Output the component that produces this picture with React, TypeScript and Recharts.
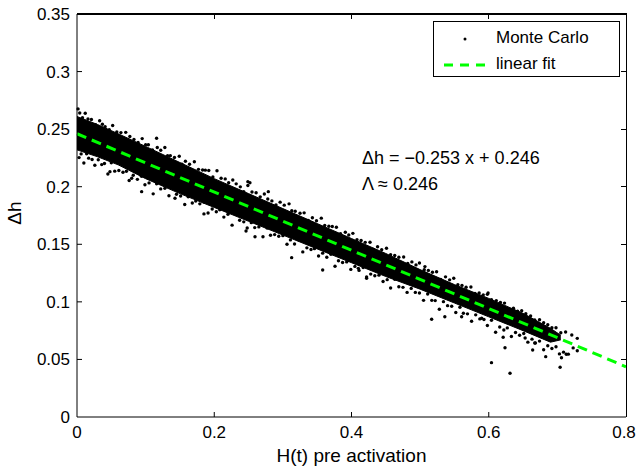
import React from "react";
import { ComposedChart, XAxis, YAxis, Area, Scatter, Line } from "recharts";

// axis ticks
const xTicks = [0, 0.2, 0.4, 0.6, 0.8];
const xTickLabels = ["0", "0.2", "0.4", "0.6", "0.8"];
const yTicks = [0, 0.05, 0.1, 0.15, 0.2, 0.25, 0.3, 0.35];
const yTickLabels = ["0", "0.05", "0.1", "0.15", "0.2", "0.25", "0.3", "0.35"];
const xMax = 0.8;
const yMax = 0.35;

// dense core of the Monte Carlo cloud (solid black region)
const bandX = [0, 0.03, 0.06, 0.1, 0.15, 0.2, 0.25, 0.3, 0.35, 0.4, 0.45, 0.5, 0.55, 0.6, 0.65, 0.69, 0.705];
const bandHi = [0.261, 0.254, 0.246, 0.235, 0.221, 0.207, 0.194, 0.181, 0.168, 0.155, 0.142, 0.128, 0.115, 0.103, 0.09, 0.077, 0.071];
const bandLo = [0.232, 0.226, 0.219, 0.207, 0.194, 0.182, 0.17, 0.158, 0.146, 0.134, 0.122, 0.111, 0.099, 0.087, 0.075, 0.065, 0.067];

// samples on the upper edge of the cloud
const upperX = [0.004, 0.012, 0.021, 0.033, 0.041, 0.052, 0.064, 0.071, 0.083, 0.095, 0.104, 0.117, 0.128, 0.136, 0.149, 0.158, 0.171, 0.183, 0.192, 0.204, 0.216, 0.227, 0.238, 0.249, 0.261, 0.273, 0.284, 0.296, 0.309, 0.318, 0.331, 0.343, 0.356, 0.367, 0.378, 0.391, 0.402, 0.414, 0.427, 0.438, 0.451, 0.463, 0.476, 0.488, 0.499, 0.512, 0.524, 0.537, 0.549, 0.561, 0.574, 0.586, 0.598, 0.611, 0.623, 0.636, 0.648, 0.661, 0.674, 0.686, 0.698, 0.712, 0.721, 0.729];
const upperY = [0.264, 0.2638, 0.2584, 0.2573, 0.2521, 0.2532, 0.247, 0.2472, 0.241, 0.2418, 0.2364, 0.234, 0.2341, 0.227, 0.2265, 0.2221, 0.2217, 0.2145, 0.2141, 0.2139, 0.2068, 0.2058, 0.1999, 0.201, 0.1948, 0.1937, 0.1877, 0.1866, 0.1851, 0.1787, 0.1773, 0.1731, 0.1727, 0.1657, 0.1648, 0.1604, 0.1595, 0.1533, 0.1518, 0.1479, 0.1465, 0.1403, 0.1389, 0.1347, 0.1338, 0.1273, 0.1261, 0.1217, 0.1205, 0.1143, 0.1129, 0.1077, 0.1065, 0.1011, 0.0989, 0.0945, 0.0923, 0.0878, 0.0844, 0.0802, 0.0775, 0.0738, 0.0712, 0.0683];

// samples straddling the upper edge
const upperInX = [0.008, 0.016, 0.027, 0.037, 0.047, 0.058, 0.068, 0.077, 0.089, 0.1, 0.11, 0.122, 0.132, 0.142, 0.153, 0.164, 0.177, 0.187, 0.198, 0.21, 0.221, 0.232, 0.243, 0.255, 0.267, 0.278, 0.29, 0.302, 0.313, 0.325, 0.337, 0.349, 0.361, 0.372, 0.384, 0.396, 0.408, 0.42, 0.432, 0.444, 0.457, 0.469, 0.482, 0.494, 0.506, 0.518, 0.53, 0.543, 0.555, 0.567, 0.58, 0.592, 0.604, 0.617, 0.629, 0.642, 0.654, 0.667, 0.68, 0.692, 0.705];
const upperInY = [0.2599, 0.2588, 0.2538, 0.2542, 0.2495, 0.2476, 0.242, 0.2436, 0.2384, 0.2365, 0.2319, 0.2317, 0.227, 0.2254, 0.2195, 0.2195, 0.2151, 0.2144, 0.2085, 0.2074, 0.2034, 0.2025, 0.1956, 0.1954, 0.1912, 0.1893, 0.1842, 0.184, 0.1791, 0.1769, 0.1707, 0.1705, 0.1663, 0.1654, 0.1592, 0.1581, 0.1539, 0.1517, 0.1455, 0.1453, 0.1409, 0.1387, 0.1333, 0.1321, 0.1279, 0.1257, 0.1195, 0.1191, 0.1149, 0.1127, 0.1073, 0.1061, 0.1019, 0.0995, 0.0933, 0.0919, 0.0897, 0.0843, 0.0818, 0.0776, 0.0732];

// samples on the lower edge of the cloud
const lowerX = [0.003, 0.01, 0.017, 0.026, 0.036, 0.045, 0.055, 0.067, 0.076, 0.088, 0.099, 0.111, 0.122, 0.134, 0.145, 0.157, 0.168, 0.179, 0.191, 0.203, 0.214, 0.226, 0.237, 0.248, 0.259, 0.271, 0.282, 0.294, 0.306, 0.317, 0.329, 0.341, 0.352, 0.364, 0.376, 0.387, 0.399, 0.411, 0.422, 0.434, 0.446, 0.457, 0.469, 0.481, 0.493, 0.505, 0.517, 0.528, 0.54, 0.552, 0.563, 0.575, 0.587, 0.598, 0.61, 0.622, 0.633, 0.645, 0.657, 0.668, 0.68, 0.692, 0.703, 0.716];
const lowerY = [0.2253, 0.2206, 0.2248, 0.2186, 0.2192, 0.211, 0.2135, 0.2126, 0.2054, 0.2064, 0.2017, 0.1938, 0.1981, 0.1922, 0.1935, 0.1845, 0.1858, 0.1851, 0.1772, 0.1783, 0.1736, 0.1666, 0.1709, 0.1642, 0.1645, 0.1566, 0.1579, 0.157, 0.15, 0.1503, 0.1434, 0.1455, 0.1398, 0.1388, 0.1309, 0.1342, 0.1282, 0.1273, 0.1216, 0.1227, 0.1177, 0.112, 0.1131, 0.1082, 0.1082, 0.1013, 0.1013, 0.0936, 0.0967, 0.0908, 0.0901, 0.0831, 0.0852, 0.0795, 0.0736, 0.0756, 0.0699, 0.071, 0.065, 0.0643, 0.0584, 0.0595, 0.0548, 0.0546];

// samples straddling the lower edge
const lowerInX = [0.006, 0.014, 0.022, 0.031, 0.04, 0.05, 0.061, 0.072, 0.082, 0.094, 0.105, 0.116, 0.128, 0.139, 0.151, 0.162, 0.173, 0.185, 0.197, 0.208, 0.22, 0.231, 0.243, 0.254, 0.265, 0.277, 0.288, 0.3, 0.311, 0.323, 0.335, 0.346, 0.358, 0.37, 0.381, 0.393, 0.405, 0.417, 0.428, 0.44, 0.452, 0.463, 0.475, 0.487, 0.499, 0.511, 0.522, 0.534, 0.546, 0.558, 0.569, 0.581, 0.593, 0.604, 0.616, 0.627, 0.639, 0.651, 0.663, 0.674, 0.686, 0.698, 0.709];
const lowerInY = [0.2285, 0.2286, 0.2236, 0.2234, 0.2202, 0.2208, 0.2141, 0.2134, 0.2099, 0.209, 0.2033, 0.2026, 0.1986, 0.1989, 0.192, 0.1913, 0.1876, 0.1867, 0.1807, 0.18, 0.1761, 0.1764, 0.1695, 0.1688, 0.1651, 0.1641, 0.1584, 0.1575, 0.1538, 0.1539, 0.1469, 0.1462, 0.1423, 0.1414, 0.1357, 0.1347, 0.1308, 0.1298, 0.1241, 0.1232, 0.1193, 0.1196, 0.1126, 0.1117, 0.1077, 0.1068, 0.1011, 0.1002, 0.0962, 0.0953, 0.0896, 0.0887, 0.0847, 0.084, 0.0781, 0.0774, 0.0734, 0.0725, 0.0676, 0.0659, 0.0619, 0.061, 0.0563];

// isolated outliers
const outX = [0.0015, 0.048, 0.0797, 0.0942, 0.116, 0.1428, 0.185, 0.249, 0.252, 0.2463, 0.2594, 0.2788, 0.3128, 0.358, 0.41, 0.422, 0.507, 0.5168, 0.536, 0.5605, 0.5897, 0.599, 0.604, 0.621, 0.6237, 0.631, 0.653, 0.664, 0.667, 0.683, 0.704, 0.706, 0.713, 0.723, 0.729];
const outY = [0.2676, 0.2131, 0.2073, 0.1957, 0.2421, 0.19, 0.1764, 0.2044, 0.2035, 0.1616, 0.1566, 0.1957, 0.1384, 0.1277, 0.1291, 0.1205, 0.1306, 0.0849, 0.0871, 0.0871, 0.0857, 0.1077, 0.0472, 0.0692, 0.0602, 0.038, 0.0686, 0.0582, 0.0643, 0.0524, 0.0432, 0.0515, 0.0545, 0.06, 0.0576];

// linear fit  dh = -0.253 x + 0.246
const fitX = [0, 0.8];
const fitY = [0.246, 0.0436];

const FONT = '"Liberation Sans", Arial, Helvetica, sans-serif';
const GREEN = "#00ff00";

// chart geometry
const W = 637;
const H = 467;
const M = { top: 14, right: 11, bottom: 0, left: 0 };
const Y_AXIS_W = 77;
const X_AXIS_H = 50;
const plotL = M.left + Y_AXIS_W;
const plotR = W - M.right;
const plotT = M.top;
const plotB = H - M.bottom - X_AXIS_H;

const bandData = bandX.map((x, i) => ({ x, band: [bandLo[i], bandHi[i]] }));
const pairs = (xs: number[], ys: number[]) => xs.map((x, i) => ({ x, y: ys[i] }));
const mcData = [
  ...pairs(upperX, upperY),
  ...pairs(upperInX, upperInY),
  ...pairs(lowerX, lowerY),
  ...pairs(lowerInX, lowerInY),
  ...pairs(outX, outY),
];
const fitData = pairs(fitX, fitY);

function XTick({ x, y, payload }: any) {
  const i = xTicks.indexOf(payload.value);
  const last = i === xTicks.length - 1;
  return (
    <g>
      {i > 0 && !last && <line x1={x} x2={x} y1={y} y2={y - 5} stroke="#000" />}
      <text x={last ? x - 2 : x} y={y + 21} textAnchor="middle" fontSize={17} fontFamily={FONT} fill="#000">
        {xTickLabels[i]}
      </text>
    </g>
  );
}

function YTick({ x, y, payload }: any) {
  const i = yTicks.indexOf(payload.value);
  return (
    <g>
      {i > 0 && i < yTicks.length - 1 && <line x1={x} x2={x + 5} y1={y} y2={y} stroke="#000" />}
      <text x={x - 7} y={y + 6} textAnchor="end" fontSize={17} fontFamily={FONT} fill="#000">
        {yTickLabels[i]}
      </text>
    </g>
  );
}

// MATLAB-style box: top and right sides with inward ticks (drawn as solid 1px strips)
function Frame() {
  const sx = (v: number) => plotL + (v / xMax) * (plotR - plotL);
  const sy = (v: number) => plotB - (v / yMax) * (plotB - plotT);
  return (
    <>
      <div style={{ position: "absolute", left: plotL, top: plotT - 1, width: plotR - plotL + 1, height: 1.5, background: "#000" }} />
      <div style={{ position: "absolute", left: plotR - 0.5, top: plotT - 1, width: 1.5, height: plotB - plotT + 1, background: "#000" }} />
      {xTicks.slice(1, -1).map((v) => (
        <div key={"t" + v} style={{ position: "absolute", left: sx(v) - 0.5, top: plotT, width: 1, height: 5, background: "#000" }} />
      ))}
      {yTicks.slice(1, -1).map((v) => (
        <div key={"r" + v} style={{ position: "absolute", left: plotR - 5, top: sy(v) - 0.5, width: 5, height: 1, background: "#000" }} />
      ))}
    </>
  );
}

function LegendBox() {
  return (
    <div
      style={{
        position: "absolute",
        left: 433,
        top: 21,
        width: 185,
        height: 54,
        border: "1px solid #000",
        background: "#fff",
        fontSize: 17,
        color: "#000",
      }}
    >
      <svg width={60} height={54} style={{ position: "absolute", left: 0, top: 0 }}>
        <circle cx={31} cy={17} r={1.5} fill="#000" />
        <line x1={10} x2={52} y1={43} y2={43} stroke={GREEN} strokeWidth={3} strokeDasharray="9 7" />
      </svg>
      <div style={{ position: "absolute", left: 62, top: 6, lineHeight: "20px" }}>Monte Carlo</div>
      <div style={{ position: "absolute", left: 62, top: 32, lineHeight: "20px" }}>linear fit</div>
    </div>
  );
}

export default function App() {
  return (
    <div style={{ position: "relative", width: W, height: H, fontFamily: FONT }}>
      <style>{"body{margin:0}"}</style>
      <ComposedChart width={W} height={H} margin={M}>
        <XAxis
          dataKey="x"
          type="number"
          domain={[0, xMax]}
          ticks={xTicks}
          height={X_AXIS_H}
          tickLine={false}
          tickSize={0}
          tickMargin={0}
          tick={<XTick />}
          axisLine={{ stroke: "#000" }}
          label={{ value: "H(t) pre activation", position: "insideBottom", offset: 5, fontSize: 19, fill: "#000", fontFamily: FONT }}
        />
        <YAxis
          dataKey="y"
          type="number"
          domain={[0, yMax]}
          ticks={yTicks}
          width={Y_AXIS_W}
          tickLine={false}
          tickSize={0}
          tickMargin={0}
          tick={<YTick />}
          axisLine={{ stroke: "#000" }}
        />
        <Area
          data={bandData}
          dataKey="band"
          type="linear"
          stroke="#000"
          strokeWidth={1}
          fill="#000"
          fillOpacity={1}
          dot={false}
          activeDot={false}
          isAnimationActive={false}
        />
        <Scatter
          data={mcData}
          dataKey="y"
          name="Monte Carlo"
          fill="#000"
          shape={(p: any) => <circle cx={p.cx} cy={p.cy} r={1.7} fill="#000" />}
          isAnimationActive={false}
        />
        <Line
          data={fitData}
          dataKey="y"
          name="linear fit"
          type="linear"
          stroke={GREEN}
          strokeWidth={3}
          strokeDasharray="10 6"
          dot={false}
          activeDot={false}
          isAnimationActive={false}
        />
      </ComposedChart>
      <Frame />
      <LegendBox />
      <div
        style={{
          position: "absolute",
          left: 362,
          top: 145,
          fontSize: 18,
          lineHeight: "26px",
          color: "#000",
          whiteSpace: "nowrap",
        }}
      >
        <div>Δh = −0.253 x + 0.246</div>
        <div>Λ ≈ 0.246</div>
      </div>
      <svg width={40} height={H} style={{ position: "absolute", left: 0, top: 0 }}>
        <text x={21} y={213} transform="rotate(-90 21 213)" textAnchor="middle" fontSize={19} fontFamily={FONT} fill="#000">
          Δh
        </text>
      </svg>
    </div>
  );
}
